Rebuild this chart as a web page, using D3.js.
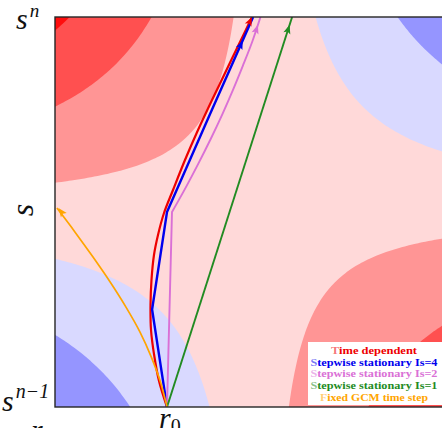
<!DOCTYPE html>
<html lang="en">
<head>
<meta charset="utf-8">
<title>Trajectories between GCM time steps</title>
<script src="https://d3js.org/d3.v7.min.js"></script>
<style>
    * { margin: 0; padding: 0; }
    body { width: 442px; height: 428px; overflow: hidden; background: white; }
    svg { display: block; }
</style>
</head>
<body>
<script>
    // field values at the two ends of r, at s^(n-1) and at s^n (bilinear in between)
    const fieldAtSnm1 = [-1.95, 2.97];
    const fieldAtSn = [3.18, -1.58];
    const levels = [-1, 0, 1, 2, 3];
    const bandColors = ["#9595ff", "#d9d9ff", "#ffd9d9", "#ff9595", "#ff5050", "#ff0d0d"];

    // trajectories, r and s normalised to [0, 1]
    const timeDepR = [0.2872, 0.2667, 0.2538, 0.2462, 0.2449, 0.2474, 0.2538, 0.2641, 0.2795, 0.3026, 0.3333, 0.3667, 0.4026, 0.4397, 0.4769, 0.5051];
    const timeDepS = [0, 0.0667, 0.1359, 0.1974, 0.2615, 0.3256, 0.3897, 0.4410, 0.4974, 0.5564, 0.6333, 0.7103, 0.7872, 0.8641, 0.9410, 1.0];
    const step4R = [0.2872, 0.249, 0.2872, 0.397, 0.508];
    const step4S = [0, 0.25, 0.5, 0.75, 1.0];
    const step2R = [0.2872, 0.300, 0.3351, 0.3682, 0.3995, 0.4290, 0.4564, 0.4821, 0.5064, 0.5269];
    const step2S = [0, 0.5, 0.5626, 0.6254, 0.6879, 0.7505, 0.8131, 0.8759, 0.9385, 1.0];
    const step1R = [0.2872, 0.608];
    const step1S = [0, 1.0];
    const fixedR = [0.2872, 0.2705, 0.247, 0.218, 0.182, 0.141, 0.097, 0.051, 0.005];
    const fixedS = [0, 0.064, 0.128, 0.192, 0.256, 0.321, 0.385, 0.449, 0.510];

    const legendLabels = ["Time dependent", "Stepwise stationary Is=4", "Stepwise stationary Is=2",
                          "Stepwise stationary Is=1", "Fixed GCM time step"];

    const w = 442, h = 428;
    const x = d3.scaleLinear().domain([0, 1]).range([55, 445]);
    const y = d3.scaleLinear().domain([0, 1]).range([407, 17]);

    const svg = d3.select("body").append("svg")
        .attr("width", w)
        .attr("height", h);

    svg.append("clipPath").attr("id", "plot")
        .append("rect")
        .attr("x", x(0)).attr("y", y(1))
        .attr("width", x(1) - x(0)).attr("height", y(0) - y(1));

    const plot = svg.append("g").attr("clip-path", "url(#plot)");

    // filled contours
    const n = 120;
    const values = new Array(n * n);
    for (let j = 0; j < n; j++) {
        const s = 1 - j / (n - 1);
        for (let i = 0; i < n; i++) {
            const r = i / (n - 1);
            const bottom = fieldAtSnm1[0] * (1 - r) + fieldAtSnm1[1] * r;
            const top = fieldAtSn[0] * (1 - r) + fieldAtSn[1] * r;
            values[i + j * n] = bottom * (1 - s) + top * s;
        }
    }
    const gx = d3.scaleLinear().domain([0.5, n - 0.5]).range([x(0), x(1)]);
    const gy = d3.scaleLinear().domain([0.5, n - 0.5]).range([y(1), y(0)]);
    const gridPath = d3.geoPath(d3.geoTransform({
        point: function (px, py) { this.stream.point(gx(px), gy(py)); }
    }));

    plot.append("rect")
        .attr("x", x(0)).attr("y", y(1))
        .attr("width", x(1) - x(0)).attr("height", y(0) - y(1))
        .attr("fill", bandColors[0]);

    const contours = d3.contours().size([n, n]).thresholds(levels)(values);
    plot.selectAll("path.band")
        .data(contours)
        .enter()
        .append("path")
        .attr("class", "band")
        .attr("d", gridPath)
        .attr("fill", (d, i) => bandColors[i + 1]);

    // trajectories
    // straightUntil: index up to which the path is drawn with straight segments
    const series = [
        { r: timeDepR, s: timeDepS, color: "#ee0000", width: 2.2, straightUntil: 0, arrowS: 1.0 },
        { r: step4R, s: step4S, color: "#0000ee", width: 2.4, straightUntil: 99, arrowS: 0.94 },
        { r: step2R, s: step2S, color: "#da70d6", width: 1.9, straightUntil: 1, arrowS: 0.98 },
        { r: step1R, s: step1S, color: "#228b22", width: 1.9, straightUntil: 99, arrowS: 0.98 },
        { r: fixedR, s: fixedS, color: "#ffa500", width: 1.7, straightUntil: 0, arrowS: null }
    ];

    const straight = d3.line().x(d => x(d[0])).y(d => y(d[1]));
    const curved = d3.line().x(d => x(d[0])).y(d => y(d[1])).curve(d3.curveCatmullRom);

    const arrowHead = "M0,0 L-9,-3.6 L-7,0 L-9,3.6 Z";

    series.forEach(sr => {
        const pts = sr.r.map((v, i) => [v, sr.s[i]]);
        const k = Math.min(sr.straightUntil, pts.length - 1);
        let d = "";
        if (k > 0) d += straight(pts.slice(0, k + 1));
        if (k < pts.length - 1) {
            const c = curved(pts.slice(k));
            d += k > 0 ? c.replace(/^M[^CL]*/, "") : c;
        }
        plot.append("path")
            .attr("d", d)
            .attr("fill", "none")
            .attr("stroke", sr.color)
            .attr("stroke-width", sr.width)
            .attr("stroke-linejoin", "round");

        // arrow head near the end, pointing along the last segment
        const a = pts[pts.length - 2], b = pts[pts.length - 1];
        let tip;
        if (sr.arrowS === null) {
            tip = [x(b[0]) + 1.5, y(b[1])];
        } else {
            const t = (sr.arrowS - a[1]) / (b[1] - a[1]);
            tip = [x(a[0] + t * (b[0] - a[0])), y(sr.arrowS)];
        }
        const ang = Math.atan2(y(b[1]) - y(a[1]), x(b[0]) - x(a[0])) * 180 / Math.PI;
        svg.append("path")
            .attr("d", arrowHead)
            .attr("transform", `translate(${tip[0]},${tip[1]}) rotate(${ang})`)
            .attr("fill", sr.color);
    });

    // frame
    svg.append("rect")
        .attr("x", x(0)).attr("y", y(1))
        .attr("width", x(1) - x(0)).attr("height", y(0) - y(1))
        .attr("fill", "none")
        .attr("stroke", "#262626")
        .attr("stroke-width", 1.4);

    // legend
    const legendWidths = [86, 127, 127, 127, 108];
    const legend = svg.append("g");
    legend.append("rect")
        .attr("x", 308).attr("y", 342)
        .attr("width", 140).attr("height", 63)
        .attr("fill", "white");
    legend.selectAll("text")
        .data(legendLabels)
        .enter()
        .append("text")
        .attr("x", 374)
        .attr("y", (d, i) => 354 + i * 11.7)
        .attr("text-anchor", "middle")
        .attr("font-family", "'Liberation Serif', 'DejaVu Serif', serif")
        .attr("font-weight", "bold")
        .attr("font-size", "10.2px")
        .attr("textLength", (d, i) => legendWidths[i])
        .attr("lengthAdjust", "spacingAndGlyphs")
        .attr("fill", (d, i) => series[i].color)
        .each(function (d) {
            const t = d3.select(this);
            t.append("tspan").attr("fill-opacity", 0.55).text(d[0]);
            t.append("tspan").text(d.slice(1));
        });

    // axis labels
    const serif = "'Liberation Serif', 'DejaVu Serif', serif";
    const sn = svg.append("text")
        .attr("x", 16).attr("y", 29)
        .attr("font-family", serif).attr("font-style", "italic").attr("font-size", "30px")
        .attr("fill", "#111");
    sn.append("tspan").text("s");
    sn.append("tspan").attr("dy", -12).attr("dx", 2).attr("font-size", "19px").text("n");

    const snm1 = svg.append("text")
        .attr("x", 2).attr("y", 411)
        .attr("font-family", serif).attr("font-style", "italic").attr("font-size", "30px")
        .attr("fill", "#111");
    snm1.append("tspan").text("s");
    snm1.append("tspan").attr("dy", -13).attr("dx", 2).attr("font-size", "20px").text("n\u22121");

    svg.append("text")
        .attr("transform", "translate(33,210) rotate(-90)")
        .attr("text-anchor", "middle")
        .attr("font-family", serif).attr("font-style", "italic").attr("font-size", "32px")
        .attr("fill", "#111")
        .text("s");

    const r0 = svg.append("text")
        .attr("x", x(step1R[0]) - 8).attr("y", 428)
        .attr("font-family", serif).attr("font-style", "italic").attr("font-size", "30px")
        .attr("fill", "#111");
    r0.append("tspan").text("r");
    r0.append("tspan").attr("dy", 5).attr("font-style", "normal").attr("font-size", "20px").text("0");

    svg.append("text")
        .attr("x", 31).attr("y", 440)
        .attr("font-family", serif).attr("font-style", "italic").attr("font-size", "30px")
        .attr("fill", "#111")
        .text("r");
</script>
</body>
</html>
